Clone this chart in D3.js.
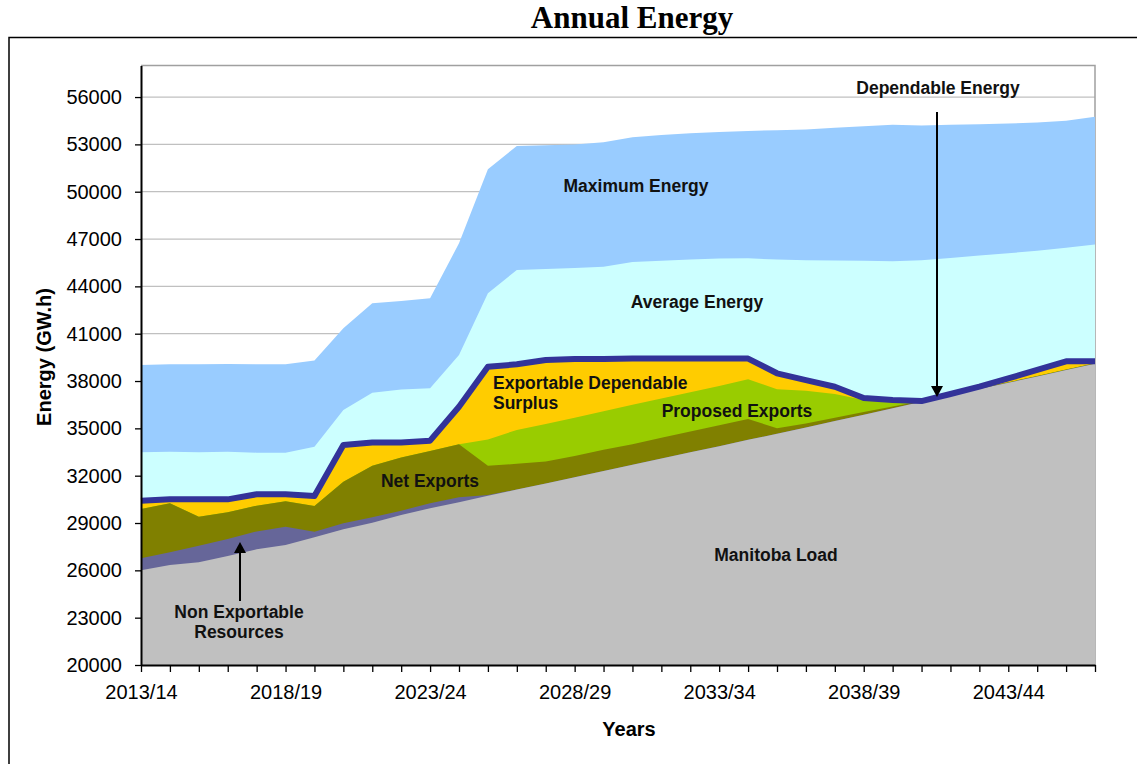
<!DOCTYPE html>
<meta charset="utf-8">
<style>

  body { margin: 0; background: #fff; }

  svg { display: block; font-family: Arial, "Liberation Sans", sans-serif; }

  .grid line {
    stroke: #c0c0c0;
    stroke-width: 1.3px;
  }

  .axis path, .axis line {
    stroke: #000;
  }

  .axis path { stroke-width: 2px; }

  .axis text {
    font-size: 20px;
    fill: #000;
  }

  .label {
    font-size: 17.5px;
    font-weight: bold;
    fill: #111;
  }

  .title-axis {
    font-size: 20px;
    font-weight: bold;
    fill: #000;
  }

</style>
<svg width="1137" height="764"></svg>
<script src="https://d3js.org/d3.v7.min.js"></script>
<script>

    var years = ["2013/14", "2014/15", "2015/16", "2016/17", "2017/18", "2018/19", "2019/20", "2020/21",
                 "2021/22", "2022/23", "2023/24", "2024/25", "2025/26", "2026/27", "2027/28", "2028/29",
                 "2029/30", "2030/31", "2031/32", "2032/33", "2033/34", "2034/35", "2035/36", "2036/37",
                 "2037/38", "2038/39", "2039/40", "2040/41", "2041/42", "2042/43", "2043/44", "2044/45",
                 "2045/46", "2046/47"];

    var yearLabels = ["2013/14", "2018/19", "2023/24", "2028/29", "2033/34", "2038/39", "2043/44"];

    var yTicks = [20000, 23000, 26000, 29000, 32000, 35000, 38000, 41000, 44000, 47000, 50000, 53000, 56000];

    // upper edge of each band, GW.h
    var manitobaLoad = [26000, 26340, 26510, 26910, 27330, 27610, 28090, 28600, 29020, 29510, 29930, 30310,
                        30730, 31120, 31510, 31900, 32300, 32690, 33090, 33480, 33870, 34270, 34660, 35060,
                        35470, 35870, 36270, 36680, 37080, 37490, 37890, 38290, 38700, 39100];

    var nonExportable = [26760, 27140, 27560, 27990, 28470, 28770, 28450, 28980, 29360, 29780, 30250, 30630,
                         30780, 31120, 31510, 31900, 32300, 32690, 33090, 33480, 33870, 34270, 34660, 35060,
                         35470, 35870, 36270, 36680, 37080, 37490, 37890, 38290, 38700, 39100];

    var netExports = [29890, 30250, 29400, 29680, 30100, 30380, 30080, 31620, 32630, 33160, 33560, 33990,
                      32630, 32750, 32900, 33250, 33650, 34000, 34400, 34800, 35200, 35600, 35000, 35300,
                      35670, 36030, 36390, 36740, 37110, 37520, 37920, 38320, 38730, 39120];

    var proposedExports = [29890, 30250, 29400, 29680, 30100, 30380, 30080, 31620, 32630, 33160, 33560, 33990,
                           34300, 34900, 35280, 35680, 36090, 36490, 36890, 37290, 37690, 38110, 37480, 37390,
                           37180, 36800, 36690, 36740, 37110, 37520, 37920, 38320, 38730, 39120];

    var dependableEnergy = [30410, 30500, 30500, 30500, 30820, 30820, 30710, 33940, 34110, 34110, 34220, 36370,
                            38900, 39060, 39330, 39400, 39400, 39420, 39420, 39420, 39420, 39420, 38490, 38060,
                            37640, 36920, 36800, 36730, 37180, 37640, 38170, 38700, 39250, 39250];

    var averageEnergy = [33480, 33520, 33480, 33520, 33460, 33460, 33840, 36160, 37260, 37470, 37540, 39650,
                         43560, 45040, 45100, 45170, 45250, 45550, 45620, 45700, 45760, 45780, 45700, 45660,
                         45640, 45620, 45600, 45650, 45800, 45950, 46100, 46250, 46450, 46660];

    var maximumEnergy = [39010, 39060, 39060, 39080, 39060, 39060, 39300, 41340, 42930, 43080, 43240, 46730,
                         51420, 52900, 52950, 53000, 53130, 53450, 53600, 53700, 53780, 53850, 53900, 53950,
                         54050, 54150, 54250, 54200, 54250, 54280, 54320, 54380, 54500, 54750];

    var svg = d3.select("svg"),
        plotLeft = 141, plotRight = 1095, plotTop = 65.5, plotBottom = 665;

    var x = d3.scalePoint()
        .domain(years)
        .range([plotLeft, plotRight]);

    var y = d3.scaleLinear()
        .domain([20000, 58000])
        .range([plotBottom, plotTop]);

    // outer frame and title
    svg.append("rect")
        .attr("x", 9).attr("y", 37.5)
        .attr("width", 1200).attr("height", 800)
        .attr("fill", "none")
        .attr("stroke", "#000")
        .attr("stroke-width", 1.5);

    svg.append("text")
        .attr("x", 632).attr("y", 28)
        .attr("text-anchor", "middle")
        .style("font-family", "'Liberation Serif', 'Times New Roman', serif")
        .style("font-weight", "bold")
        .style("font-size", "31px")
        .text("Annual Energy");

    // gridlines + plot border
    svg.append("g")
        .attr("class", "grid")
        .selectAll("line")
        .data(yTicks.slice(1))
        .enter().append("line")
        .attr("x1", plotLeft).attr("x2", plotRight)
        .attr("y1", function(d) { return y(d); })
        .attr("y2", function(d) { return y(d); });

    svg.append("path")
        .attr("d", "M" + plotLeft + "," + plotTop + "H" + plotRight + "V" + plotBottom)
        .attr("fill", "none")
        .attr("stroke", "#a0a0a0")
        .attr("stroke-width", 1.5);

    // areas, drawn from the top band down so each one covers the band below
    var bands = [
        { values: maximumEnergy, color: "#99ccff" },
        { values: averageEnergy, color: "#ccffff" },
        { values: dependableEnergy, color: "#ffcc00" },
        { values: proposedExports, color: "#99cc00" },
        { values: netExports, color: "#808000" },
        { values: nonExportable, color: "#666699" },
        { values: manitobaLoad, color: "#c0c0c0" }
    ];

    var area = d3.area()
        .x(function(d, i) { return x(years[i]); })
        .y0(y(20000))
        .y1(function(d) { return y(d); });

    svg.append("g")
        .selectAll("path")
        .data(bands)
        .enter().append("path")
        .attr("d", function(b) { return area(b.values); })
        .attr("fill", function(b) { return b.color; });

    var line = d3.line()
        .x(function(d, i) { return x(years[i]); })
        .y(function(d) { return y(d); });

    svg.append("path")
        .attr("d", line(dependableEnergy))
        .attr("fill", "none")
        .attr("stroke", "#333399")
        .attr("stroke-width", 6)
        .attr("stroke-linejoin", "round");

    // axes
    svg.append("g")
        .attr("class", "axis")
        .attr("transform", "translate(" + plotLeft + ",0)")
        .call(d3.axisLeft(y).tickValues(yTicks).tickSize(6).tickSizeOuter(0).tickPadding(13)
              .tickFormat(function(d) { return d; }));

    svg.append("g")
        .attr("class", "axis")
        .attr("transform", "translate(0," + plotBottom + ")")
        .call(d3.axisBottom(x).tickSize(7).tickSizeOuter(0).tickPadding(13)
              .tickFormat(function(d) { return yearLabels.indexOf(d) >= 0 ? d : ""; }));

    svg.selectAll(".axis .tick line").attr("stroke-width", 1.3);

    svg.append("text")
        .attr("class", "title-axis")
        .attr("x", 629).attr("y", 736)
        .attr("text-anchor", "middle")
        .text("Years");

    svg.append("text")
        .attr("class", "title-axis")
        .attr("transform", "translate(51,357) rotate(-90)")
        .attr("text-anchor", "middle")
        .text("Energy (GW.h)");

    // band labels
    var labels = [
        { t: "Maximum Energy", x: 636, y: 192, a: "middle" },
        { t: "Average Energy", x: 697, y: 308, a: "middle" },
        { t: "Exportable Dependable", x: 493, y: 389, a: "start" },
        { t: "Surplus", x: 493, y: 409, a: "start" },
        { t: "Proposed Exports", x: 737, y: 417, a: "middle" },
        { t: "Net Exports", x: 430, y: 487, a: "middle" },
        { t: "Manitoba Load", x: 776, y: 561, a: "middle" },
        { t: "Non Exportable", x: 239, y: 618, a: "middle" },
        { t: "Resources", x: 239, y: 638, a: "middle" },
        { t: "Dependable Energy", x: 938, y: 94, a: "middle" }
    ];

    svg.append("g")
        .selectAll("text")
        .data(labels)
        .enter().append("text")
        .attr("class", "label")
        .attr("x", function(d) { return d.x; })
        .attr("y", function(d) { return d.y; })
        .attr("text-anchor", function(d) { return d.a; })
        .text(function(d) { return d.t; });

    // arrows
    function arrow(x0, y0, y1) {
        var dir = y1 > y0 ? 1 : -1;
        svg.append("line")
            .attr("x1", x0).attr("x2", x0)
            .attr("y1", y0).attr("y2", y1 - dir * 10)
            .attr("stroke", "#000").attr("stroke-width", 2);
        svg.append("path")
            .attr("d", "M" + (x0 - 6) + "," + (y1 - dir * 11) + "L" + (x0 + 6) + "," + (y1 - dir * 11) +
                       "L" + x0 + "," + y1 + "Z")
            .attr("fill", "#000");
    }

    arrow(937, 112, 397);
    arrow(240, 601, 542);

</script>
